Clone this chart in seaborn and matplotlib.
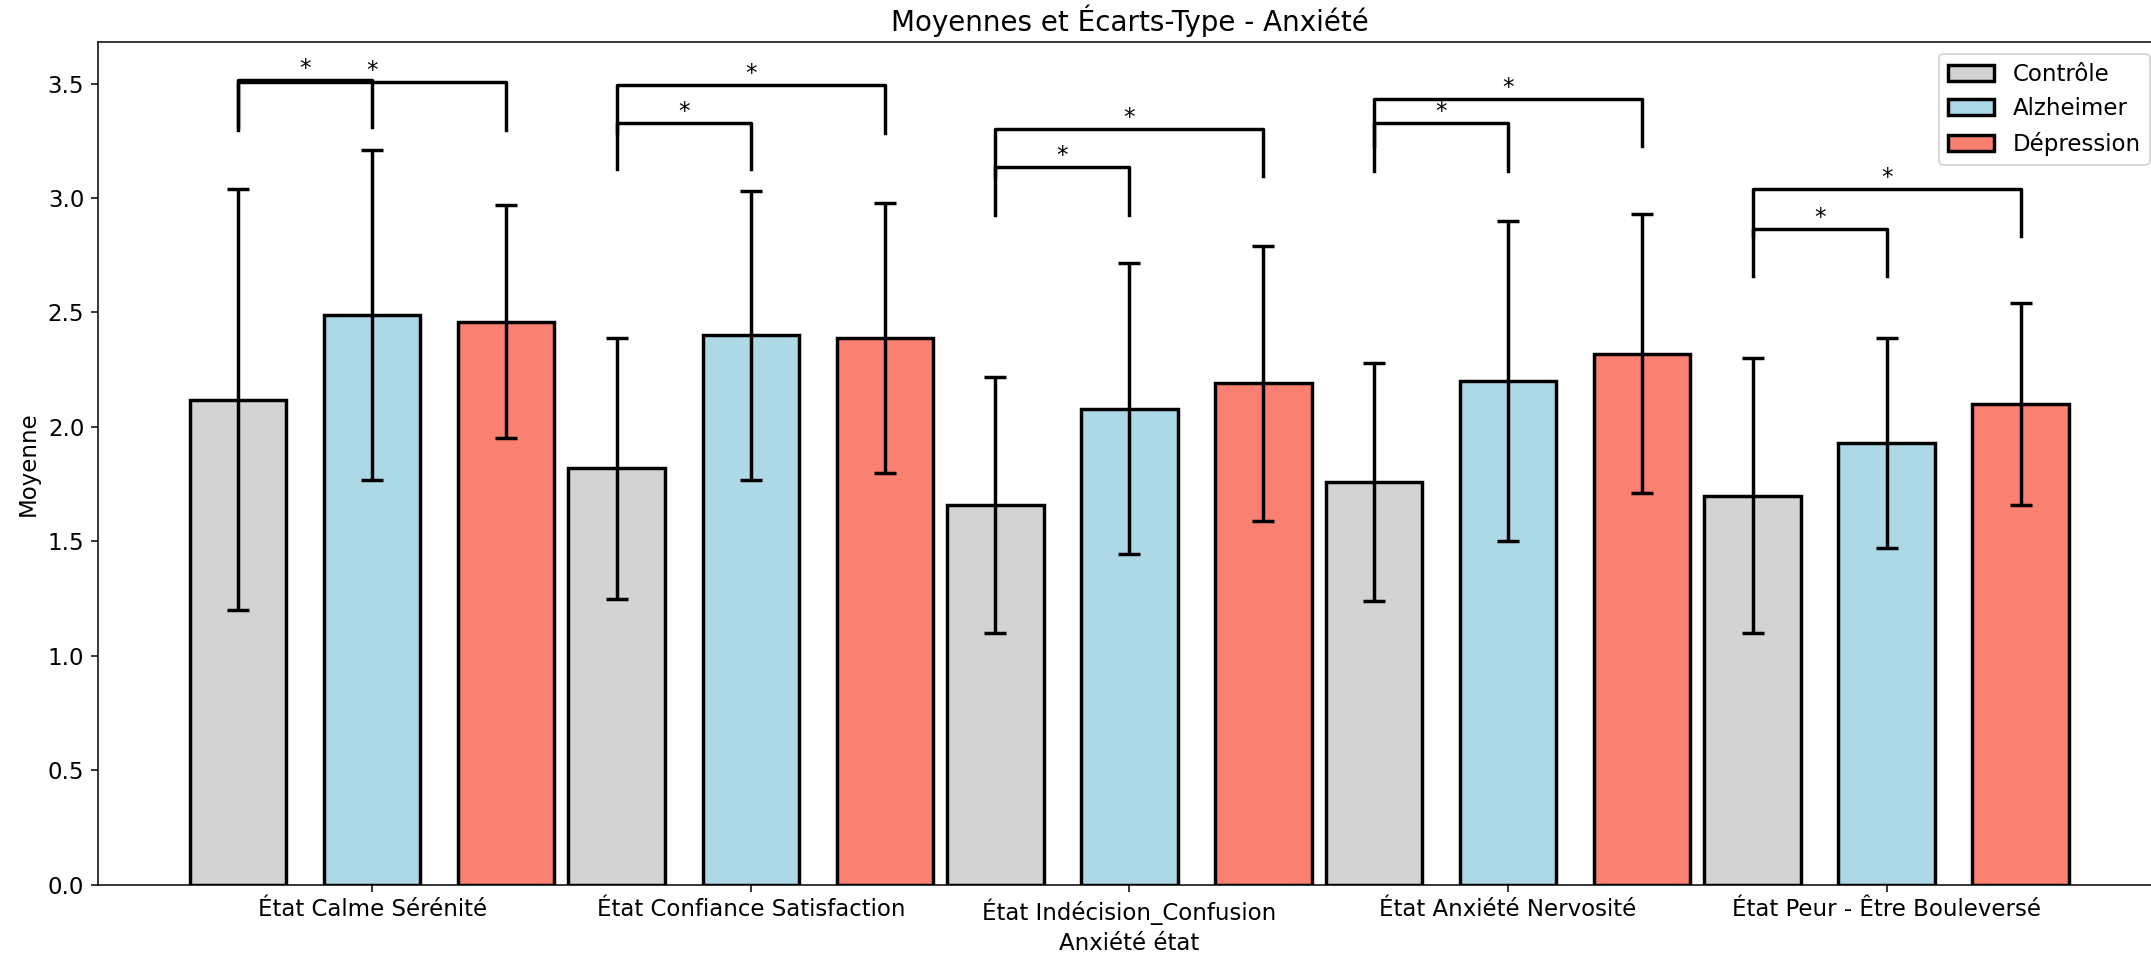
import numpy as np
import pandas as pd
import seaborn as sns
import matplotlib.pyplot as plt
from matplotlib.patches import Patch

# Data
categories = ['État Calme Sérénité', 'État Confiance Satisfaction', 'État Indécision_Confusion',
              'État Anxiété Nervosité', 'État Peur - Être Bouleversé']
groups = ['Contrôle', 'Alzheimer', 'Dépression']
colors = ['lightgray', 'lightblue', 'salmon']

mean_controle = [2.12, 1.82, 1.66, 1.76, 1.70]
mean_alzheimer = [2.49, 2.40, 2.08, 2.20, 1.93]
mean_depression = [2.46, 2.39, 2.19, 2.32, 2.10]

sd_controle = [0.92, 0.57, 0.56, 0.52, 0.60]
sd_alzheimer = [0.72, 0.63, 0.635, 0.70, 0.46]
sd_depression = [0.51, 0.59, 0.60, 0.61, 0.44]

# significance brackets: (group a, group b) per category, bracket base and top
comparisons = [(0, 1), (0, 2)]
bracket_base = [[3.309, 3.298], [3.128, 3.284], [2.925, 3.098], [3.120, 3.225], [2.661, 2.834]]
bracket_top = [[3.516, 3.506], [3.326, 3.494], [3.134, 3.302], [3.329, 3.433], [2.865, 3.040]]
stars = [['*', '*'], ['*', '*'], ['*', '*'], ['*', '*'], ['*', '*']]

means = [mean_controle, mean_alzheimer, mean_depression]
sds = [sd_controle, sd_alzheimer, sd_depression]

df = pd.DataFrame({
    'categorie': categories * 3,
    'groupe': np.repeat(groups, len(categories)),
    'moyenne': mean_controle + mean_alzheimer + mean_depression,
})

plt.rcParams['font.size'] = 12
fig = plt.figure(figsize=(2151 / 137.5, 959 / 137.5), dpi=137.5)
ax = fig.add_axes([0.0454, 0.0772, 0.9593, 0.8787])

sns.barplot(data=df, x='categorie', y='moyenne', hue='groupe', hue_order=groups,
            palette=colors, saturation=1, width=1.062, gap=0.28, errorbar=None,
            edgecolor='black', linewidth=1.8, legend=False, ax=ax)

# bar centres from the drawn bars
centers = []
for cont in ax.containers:
    centers.append([p.get_x() + p.get_width() / 2 for p in cont])

for g in range(3):
    ax.errorbar(centers[g], means[g], yerr=sds[g], fmt='none', ecolor='black',
                elinewidth=1.8, capsize=6, capthick=1.8, zorder=5)

# brackets with stars
for i in range(len(categories)):
    for k, (a, b) in enumerate(comparisons):
        x1 = centers[a][i]
        x2 = centers[b][i]
        y0 = bracket_base[i][k]
        y1 = bracket_top[i][k]
        ax.plot([x1, x1, x2, x2], [y0, y1, y1, y0], color='black', lw=1.8)
        ax.text((x1 + x2) / 2, y1, stars[i][k], ha='center', va='bottom', fontsize=12)

ax.set_xlim(-0.725, 4.725)
ax.set_ylim(0, 3.68)
ax.set_title('Moyennes et Écarts-Type - Anxiété', fontsize=14.5)
ax.set_xlabel('Anxiété état')
ax.set_ylabel('Moyenne')

handles = [Patch(facecolor=c, edgecolor='black', linewidth=1.8, label=g) for c, g in zip(colors, groups)]
ax.legend(handles=handles, loc='upper right')

fig.savefig('out.png', dpi=137.5)
